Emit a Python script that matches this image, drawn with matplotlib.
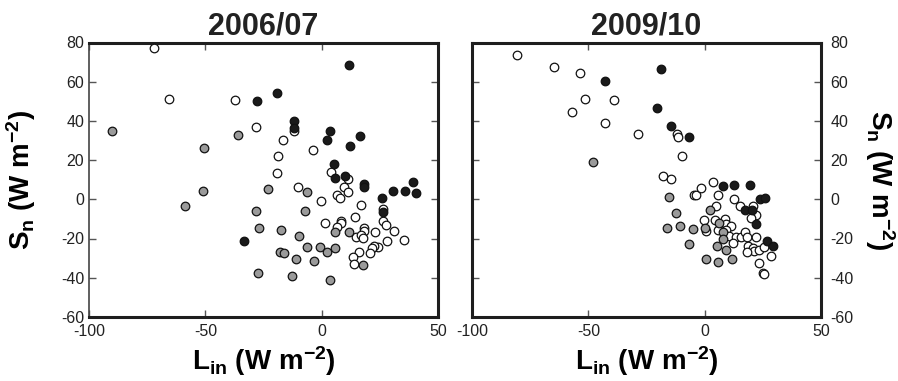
import matplotlib
matplotlib.use("Agg")
import matplotlib.pyplot as plt

plt.rcParams['font.family'] = ['Liberation Sans', 'DejaVu Sans']
plt.rcParams['mathtext.fontset'] = 'custom'
plt.rcParams['mathtext.rm'] = 'Liberation Sans'
plt.rcParams['mathtext.it'] = 'Liberation Sans:italic'
plt.rcParams['mathtext.bf'] = 'Liberation Sans:bold'
plt.rcParams['mathtext.default'] = 'regular'

# ---------------- data ----------------
titles = ["2006/07", "2009/10"]
x_ticks = [-100, -50, 0, 50]
y_ticks = [-60, -40, -20, 0, 20, 40, 60, 80]

# 2006/07
open_x_0607 = [-71.9, -65.7, -37.2, -28.3, -12.0, -16.7, -3.7, -18.6, 4.2, 11.3, -19.4, 9.7, 11.3, 6.8,
               7.7, -10.0, -0.2, 16.9, 26.3, 14.3, 1.4, 8.4, 8.1, 6.8, 26.2, 27.7, 31.3, 22.9, 18.3,
               18.0, 14.8, 17.0, 17.8, 28.0, 35.5, 24.3, 22.6, 21.6, 20.7, 16.1, 13.5, 14.1]
open_y_0607 = [77.3, 51.2, 50.8, 37.0, 34.8, 30.3, 25.2, 21.9, 13.8, 10.4, 13.3, 6.3, 3.6, 2.4,
               0.5, 6.4, -1.0, -3.1, -5.1, -9.0, -12.2, -11.2, -12.1, -14.3, -11.2, -13.3, -16.0, -16.7, -14.8,
               -16.2, -19.2, -18.2, -19.9, -21.3, -20.9, -24.5, -23.7, -24.7, -27.4, -26.9, -29.6, -33.0]
gray_x_0607 = [-90.1, -36.0, -50.4, -51.0, -58.8, -28.3, -26.9, -27.3, -23.0, -6.2, -7.2, -17.3, 5.9,
               11.8, 17.8, -9.8, -6.1, -0.9, 2.2, 5.9, -17.8, -16.0, -11.1, -3.1, -12.8, 3.7]
gray_y_0607 = [35.0, 32.8, 26.3, 4.2, -3.6, -6.0, -14.6, -37.8, 5.1, 3.7, -6.0, -15.7, -16.7,
               -16.8, -33.7, -18.7, -24.3, -24.5, -26.7, -25.0, -27.0, -27.4, -30.5, -31.3, -39.1, -41.3]
black_x_0607 = [11.7, -19.3, -28.0, -11.7, -11.8, 3.4, 2.1, 16.6, 12.1, 5.5, 5.8, 10.1, 18.3, 18.3,
                39.4, 30.5, 36.0, 40.6, 25.9, 26.3, -33.3]
black_y_0607 = [68.7, 54.4, 50.0, 39.8, 36.4, 34.8, 30.3, 32.5, 27.0, 18.0, 10.7, 11.9, 7.6, 6.3,
                9.0, 4.4, 4.2, 3.2, 0.8, -6.6, -21.4]

# 2009/10
open_x_0910 = [-80.5, -64.9, -53.6, -51.5, -57.1, -43.0, -39.1, -28.8, -11.8, -11.6, -9.9, -17.9, -14.6,
               -4.7, -3.6, -1.4, 3.7, 5.9, 12.7, 15.3, 20.7, 22.1, 19.9, 4.7, -0.4, 4.6, 8.8, 9.0, 11.2,
               0.4, 5.6, 9.3, 10.5, 13.6, 15.8, 17.5, 18.2, 21.9, 12.3, 18.8, 20.6, 21.0, 18.3, 23.2,
               25.3, 28.3, 23.4, 25.1, 25.3]
open_y_0910 = [73.8, 67.7, 64.4, 51.0, 44.7, 39.1, 50.8, 33.2, 33.2, 31.6, 21.9, 12.0, 10.4,
               2.3, 2.0, 5.6, 9.0, 2.0, 0.2, -3.4, -3.6, -8.0, -9.4, -3.6, -10.7, -10.7, -10.1, -12.8, -13.8,
               -16.3, -15.8, -15.8, -18.7, -19.1, -19.2, -16.8, -19.4, -19.2, -22.1, -23.8, -25.0, -26.4, -26.7, -25.9,
               -24.5, -29.1, -32.5, -37.4, -38.1]
gray_x_0910 = [-48.2, -15.3, 2.4, -12.4, 6.0, -16.1, -10.4, -4.8, 0.2, 8.0, 7.9, -6.9, 5.5, 9.3,
               0.7, 5.9, 11.9]
gray_y_0910 = [18.9, 1.3, -5.5, -7.1, -12.1, -14.5, -13.8, -15.3, -14.6, -16.8, -20.4, -22.6, -23.8, -25.9,
               -30.6, -32.0, -30.6]
black_x_0910 = [-42.9, -18.7, -20.3, -14.6, -6.6, 7.9, 12.6, 19.6, 23.6, 25.9, 17.5, 20.4, 22.2, 26.8, 29.4]
black_y_0910 = [60.4, 66.6, 46.6, 37.4, 31.8, 6.9, 7.1, 7.1, 0.3, 0.7, -5.6, -5.6, -12.8, -21.1, -23.7]

panels = [
    (open_x_0607, open_y_0607, gray_x_0607, gray_y_0607, black_x_0607, black_y_0607),
    (open_x_0910, open_y_0910, gray_x_0910, gray_y_0910, black_x_0910, black_y_0910),
]

# ---------------- figure ----------------
fig = plt.figure(figsize=(8.98, 3.81), dpi=100)
W, H = 898.0, 381.0
ax_bottom = 1 - 316.9 / H
ax_height = (316.9 - 42.5) / H
positions = [[89 / W, ax_bottom, 349 / W, ax_height],
             [472 / W, ax_bottom, 349 / W, ax_height]]

xlabel = r'L$_{\mathregular{in}}$ (W m$^{\mathregular{-2}}$)'
ylabel = r'S$_{\mathregular{n}}$ (W m$^{\mathregular{-2}}$)'

for i, (pos, data, title) in enumerate(zip(positions, panels, titles)):
    ax = fig.add_axes(pos)
    ox, oy, gx, gy, bx, by = data
    ms = 38
    ax.scatter(ox, oy, s=ms, facecolor='white', edgecolor='#111111', linewidth=0.9, zorder=3)
    ax.scatter(gx, gy, s=ms, facecolor='#9a9a9a', edgecolor='#111111', linewidth=0.9, zorder=3)
    ax.scatter(bx, by, s=ms, facecolor='#1a1a1a', edgecolor='#111111', linewidth=0.9, zorder=4)
    ax.set_xlim(-100, 50)
    ax.set_ylim(-60, 80)
    ax.set_xticks(x_ticks)
    ax.set_yticks(y_ticks)
    ax.set_xticklabels([str(t) for t in x_ticks])
    ax.set_yticklabels([str(t) for t in y_ticks])
    ax.tick_params(direction='in', length=5, width=1, color='#555555',
                   top=True, right=True, labelsize=11.5, labelcolor='#222222')
    ax.tick_params(axis='x', pad=5)
    for s in ax.spines.values():
        s.set_linewidth(2.2)
        s.set_color('#1e1e1e')
    if i == 0:
        ax.spines['left'].set_linewidth(1.2)
        ax.spines['left'].set_color('#444444')
        ax.tick_params(axis='y', pad=3.5)
        ax.set_ylabel(ylabel, fontsize=20, fontweight='bold', va='center')
        ax.yaxis.set_label_coords(-0.195, 0.5)
    else:
        ax.yaxis.tick_right()
        ax.tick_params(axis='y', left=True, right=True, labelleft=False, labelright=True, pad=7)
        ax.yaxis.set_label_position('right')
        ax.set_ylabel(ylabel, fontsize=20, fontweight='bold', rotation=270, va='center')
        ax.yaxis.set_label_coords(1.169, 0.5)
    ax.set_xlabel(xlabel, fontsize=20, fontweight='bold')
    ax.xaxis.set_label_coords(0.5, -0.16)
    ax.xaxis.label.set_va('center')
    ax.set_title(title, fontsize=22, fontweight='bold', pad=6, color='#222222')

fig.savefig('out.png', dpi=100)
